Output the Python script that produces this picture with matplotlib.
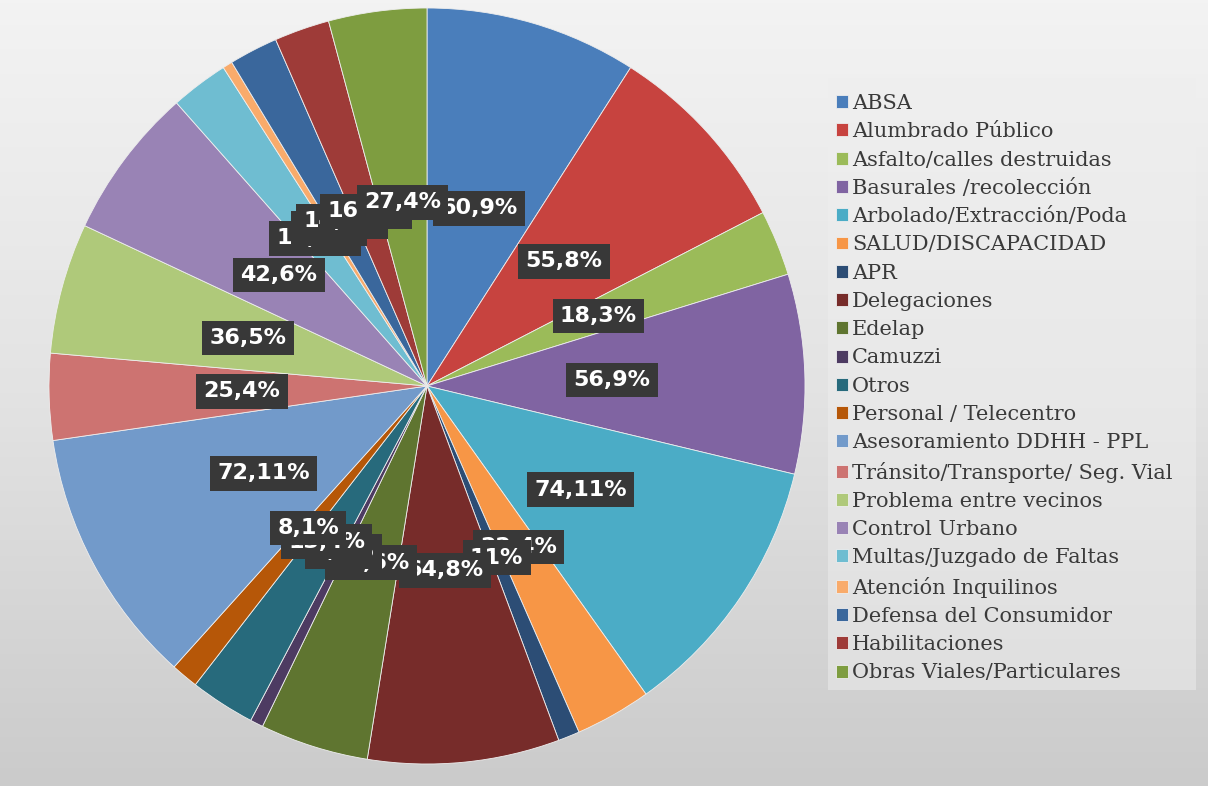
import numpy as np
import matplotlib.pyplot as plt
from matplotlib.colors import LinearSegmentedColormap
from matplotlib.patches import Rectangle

# categories (clockwise from 12 o'clock)
categories = ['ABSA', 'Alumbrado Público', 'Asfalto/calles destruidas', 'Basurales /recolección',
              'Arbolado/Extracción/Poda', 'SALUD/DISCAPACIDAD', 'APR', 'Delegaciones', 'Edelap',
              'Camuzzi', 'Otros', 'Personal / Telecentro', 'Asesoramiento DDHH - PPL',
              'Tránsito/Transporte/ Seg. Vial', 'Problema entre vecinos', 'Control Urbano',
              'Multas/Juzgado de Faltas', 'Atención Inquilinos', 'Defensa del Consumidor',
              'Habilitaciones', 'Obras Viales/Particulares']

# slice sizes (degrees of the pie)
values = [32.6, 30.1, 10.1, 30.7, 41.1, 11.7, 3.3, 29.5, 16.7, 2.0, 10.0, 4.2, 39.7,
          13.3, 20.1, 23.4, 8.9, 1.5, 7.5, 8.5, 15.1]

# data labels as printed on the chart
labels = ['60,9%', '55,8%', '18,3%', '56,9%', '74,11%', '22,4%', '11%', '64,8%', '30,6%',
          '2,6%', '13,4%', '8,1%', '72,11%', '25,4%', '36,5%', '42,6%', '10,1%', '1,5%',
          '14,2%', '16,3%', '27,4%']

colors = ['#4A7EBB', '#C7433F', '#9BBB59', '#8064A2', '#4BACC6', '#F79646', '#2C4D75',
          '#772C2A', '#5F7530', '#4D3B62', '#276A7C', '#B65708', '#729ACA', '#CD7371',
          '#AFC97A', '#9983B5', '#6FBDD1', '#F9AB6B', '#3A679C', '#9E3B38', '#7E9D40']

fig = plt.figure(figsize=(12.08, 7.86), dpi=100)

# gray gradient background
bg = fig.add_axes([0, 0, 1, 1])
grad = np.linspace(0, 1, 256).reshape(-1, 1)
cmap = LinearSegmentedColormap.from_list('bg', ['#f3f3f3', '#e3e3e3', '#cbcbcb'])
bg.imshow(grad, aspect='auto', cmap=cmap, extent=[0, 1, 0, 1])
bg.add_patch(Rectangle((828 / 1208, 1 - 690 / 786), 368 / 1208, 612 / 786,
                       facecolor='#eeeeee', edgecolor='none', alpha=0.5))
bg.set_xlim(0, 1)
bg.set_ylim(0, 1)
bg.axis('off')

# pie
ax = fig.add_axes([49 / 1208, 22 / 786, 756 / 1208, 756 / 786])
wedges, _ = ax.pie(values, colors=colors, startangle=90, counterclock=False, radius=1,
                   wedgeprops=dict(linewidth=0.6, edgecolor='#eeeeee'))
ax.set_xlim(-1, 1)
ax.set_ylim(-1, 1)
ax.set_aspect('equal')
ax.axis('off')

# data labels at half radius, drawn in series order
for i, (w, lab) in enumerate(zip(wedges, labels)):
    ang = np.deg2rad((w.theta1 + w.theta2) / 2)
    r = 0.49
    ax.text(r * np.cos(ang), r * np.sin(ang), lab, ha='center', va='center',
            color='white', fontsize=16, fontweight='bold', family='DejaVu Sans',
            zorder=10 + i,
            bbox=dict(boxstyle='square,pad=0.33', facecolor='#383838', edgecolor='none'))

leg = ax.legend(wedges, categories, loc='upper left', bbox_to_anchor=(836 / 1208, 1 - 94 / 786),
                bbox_transform=fig.transFigure, frameon=False,
                prop={'family': 'DejaVu Serif', 'size': 15},
                handlelength=0.58, handleheight=0.58, handletextpad=0.2,
                labelspacing=0.445, borderaxespad=0, borderpad=0)
for t in leg.get_texts():
    t.set_color('#3a3a3a')

plt.savefig('out.png', dpi=100)
